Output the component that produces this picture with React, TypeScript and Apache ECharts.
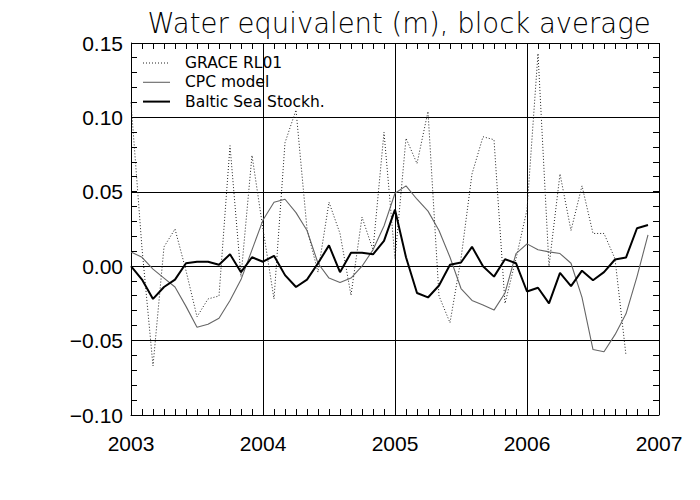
import React, { useEffect, useRef } from "react";
import * as echarts from "echarts";

const START_YEAR = 2003;
const yearTicks = [2003, 2004, 2005, 2006, 2007];
const yTickLabels = ["−0.10", "−0.05", "0.00", "0.05", "0.10", "0.15"];
const legendNames = ["GRACE RL01", "CPC model", "Baltic Sea Stockh."];
const MONTHS_PER_YEAR = 12;
const Y_MINOR_STEP = 0.01;

// monthly values starting Jan 2003
const grace = [
  0.110, 0.012, -0.067, 0.013, 0.025, -0.003, -0.034, -0.022, -0.020, 0.081, -0.007, 0.0745,
  0.025, -0.022, 0.083, 0.105, 0.025, -0.004, 0.043, 0.022, -0.0195, 0.033, 0.011, 0.090,
  0.005, 0.086, 0.069, 0.104, -0.020, -0.038, 0.005, 0.062, 0.087, 0.085, -0.025, 0.005,
  0.038, 0.143, 0.000, 0.062, 0.024, 0.054, 0.022, 0.022, 0.005, -0.060,
];
const cpc = [
  0.0096, 0.006, -0.002, -0.008, -0.014, -0.027, -0.041, -0.039, -0.035, -0.023, -0.009, 0.011,
  0.031, 0.043, 0.045, 0.036, 0.024, 0.002, -0.008, -0.011, -0.008, 0.000, 0.011, 0.027,
  0.049, 0.054, 0.045, 0.037, 0.024, 0.006, -0.015, -0.023, -0.026, -0.0295, -0.018, 0.0085,
  0.015, 0.011, 0.0096, 0.0085, 0.002, -0.021, -0.056, -0.0575, -0.046, -0.032, -0.007, 0.021,
];
const baltic = [
  0.000, -0.009, -0.022, -0.014, -0.009, 0.002, 0.003, 0.003, 0.001, 0.008, -0.004, 0.006,
  0.003, 0.007, -0.006, -0.014, -0.009, 0.002, 0.014, -0.004, 0.009, 0.009, 0.008, 0.017,
  0.038, 0.006, -0.018, -0.021, -0.013, 0.001, 0.0025, 0.013, 0.000, -0.007, 0.0047, 0.002,
  -0.017, -0.0145, -0.025, -0.0045, -0.0134, -0.003, -0.0094, -0.004, 0.0045, 0.0058, 0.0255, 0.0277,
];

const toPoints = (arr: number[]) => arr.map((v, i) => [START_YEAR + i / MONTHS_PER_YEAR, v]);

const Y_MIN = -0.1;
const Y_MAX = 0.15;
const X_MIN = yearTicks[0];
const X_MAX = yearTicks[yearTicks.length - 1];

// tick positions derived from the axis ranges
const xTickVals: number[] = [];
for (let i = 0; i <= (X_MAX - X_MIN) * MONTHS_PER_YEAR; i++) xTickVals.push(X_MIN + i / MONTHS_PER_YEAR);
const yTickVals: number[] = [];
for (let j = 0; j <= Math.round((Y_MAX - Y_MIN) / Y_MINOR_STEP); j++) yTickVals.push(Y_MIN + j * Y_MINOR_STEP);

const numFont = "Liberation Sans";
const txtFont = "DejaVu Sans";

const styles = [
  { stroke: "#222", lineWidth: 1, lineDash: [1, 2] as number[] | null },
  { stroke: "#666", lineWidth: 1.1, lineDash: null },
  { stroke: "#000", lineWidth: 2, lineDash: null },
];

const crisp = (v: number) => Math.round(v - 0.5) + 0.5;
const TICK_COLOR = "#000";
const X_TICK_LEN = 6;
const Y_TICK_LEN = 6;

export default function App() {
  const ref = useRef<HTMLDivElement>(null);
  useEffect(() => {
    if (!ref.current) return;
    const chart = echarts.init(ref.current, null, { renderer: "svg" });
    const black = "#000";
    const legendGraphics: any[] = [];
    legendNames.forEach((name, i) => {
      const y = 63 + i * 19.3;
      legendGraphics.push({
        type: "line",
        shape: { x1: 143, y1: y, x2: 170, y2: y },
        style: { ...styles[i] },
        z: 10,
      });
      legendGraphics.push({
        type: "text",
        x: 185,
        y: y,
        style: {
          text: name,
          font: `15.5px "${txtFont}"`,
          fill: black,
          verticalAlign: "middle",
          align: "left",
        },
        z: 10,
      });
    });
    chart.setOption({
      animation: false,
      backgroundColor: "#fff",
      title: {
        text: "Water equivalent (m), block average",
        left: 394,
        top: 4,
        textAlign: "center",
        textStyle: { fontFamily: txtFont, fontSize: 27.5, fontWeight: 200, color: black },
      },
      graphic: legendGraphics,
      grid: { left: 131, right: 41, top: 43, bottom: 85, containLabel: false },
      xAxis: {
        type: "value",
        min: X_MIN,
        max: X_MAX,
        interval: 1,
        axisLine: { show: true, onZero: false, lineStyle: { color: black, width: 1 } },
        axisTick: { show: false },
        splitLine: { show: true, lineStyle: { color: black, width: 1 } },
        axisLabel: {
          show: true,
          margin: 18,
          fontFamily: numFont,
          fontSize: 21,
          color: black,
          formatter: (v: number) => String(Math.round(v)),
        },
      },
      yAxis: {
        type: "value",
        min: Y_MIN,
        max: Y_MAX,
        interval: 0.05,
        axisLine: { show: true, onZero: false, lineStyle: { color: black, width: 1 } },
        axisTick: { show: false },
        splitLine: { show: true, lineStyle: { color: black, width: 1 } },
        axisLabel: {
          show: true,
          margin: 8,
          fontFamily: numFont,
          fontSize: 21,
          color: black,
          formatter: (v: number) => {
            const idx = Math.round((v - Y_MIN) / 0.05);
            return yTickLabels[idx] ?? "";
          },
        },
      },
      series: [
        {
          name: "xticks",
          type: "custom",
          coordinateSystem: "cartesian2d",
          silent: true,
          clip: false,
          encode: { x: 0, y: 1 },
          data: xTickVals.map((v) => [v, Y_MIN]),
          renderItem: (params: any, api: any) => {
            const p = api.coord([api.value(0), Y_MIN]);
            const top = api.coord([api.value(0), Y_MAX]);
            const x = crisp(p[0]);
            const yb = p[1];
            const yt = top[1];
            return {
              type: "group",
              children: [
                { type: "line", shape: { x1: x, y1: yb, x2: x, y2: yb - X_TICK_LEN }, style: { stroke: TICK_COLOR, lineWidth: 1 } },
                { type: "line", shape: { x1: x, y1: yt, x2: x, y2: yt + X_TICK_LEN }, style: { stroke: TICK_COLOR, lineWidth: 1 } },
              ],
            };
          },
          z: 5,
        },
        {
          name: "yticks",
          type: "custom",
          coordinateSystem: "cartesian2d",
          silent: true,
          clip: false,
          encode: { x: 0, y: 1 },
          data: yTickVals.map((v) => [X_MIN, v]),
          renderItem: (params: any, api: any) => {
            const p = api.coord([X_MIN, api.value(1)]);
            const r = api.coord([X_MAX, api.value(1)]);
            const y = crisp(p[1]);
            const xl = p[0];
            const xr = r[0];
            return {
              type: "group",
              children: [
                { type: "line", shape: { x1: xl, y1: y, x2: xl + Y_TICK_LEN, y2: y }, style: { stroke: TICK_COLOR, lineWidth: 1 } },
                { type: "line", shape: { x1: xr, y1: y, x2: xr - Y_TICK_LEN, y2: y }, style: { stroke: TICK_COLOR, lineWidth: 1 } },
              ],
            };
          },
          z: 5,
        },
        {
          name: legendNames[0],
          type: "line",
          data: toPoints(grace),
          symbol: "none",
          showSymbol: false,
          lineStyle: { color: "#222", width: 1, type: [1, 2] },
          z: 2,
        },
        {
          name: legendNames[1],
          type: "line",
          data: toPoints(cpc),
          symbol: "none",
          showSymbol: false,
          lineStyle: { color: "#666", width: 1.1 },
          z: 3,
        },
        {
          name: legendNames[2],
          type: "line",
          data: toPoints(baltic),
          symbol: "none",
          showSymbol: false,
          lineStyle: { color: black, width: 2 },
          z: 4,
        },
      ],
    });
    return () => chart.dispose();
  }, []);
  return (
    <div
      ref={ref}
      style={{ position: "fixed", left: 0, top: 0, width: 700, height: 500, background: "#fff" }}
    />
  );
}
